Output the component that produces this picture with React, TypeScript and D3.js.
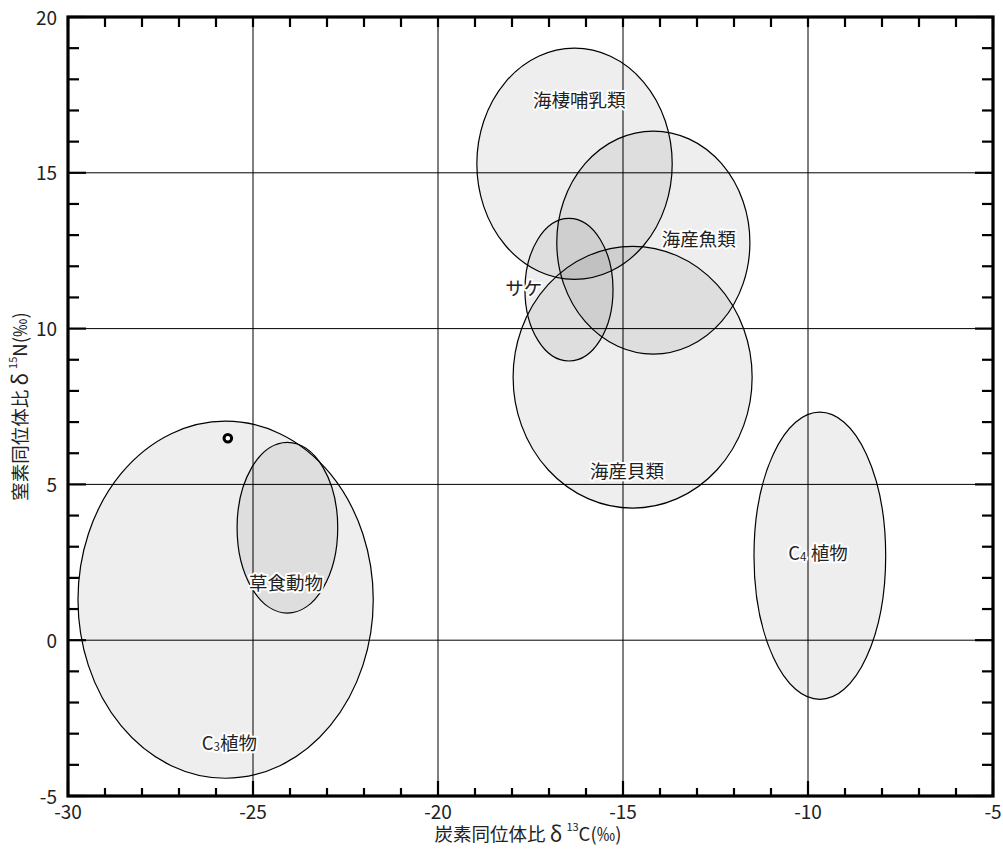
import React from "react";
import * as d3 from "d3";

const groupNames = ["C₃植物", "草食動物", "海棲哺乳類", "海産魚類", "サケ", "海産貝類", "C₄植物"];
const centerX = [-25.74, -24.07, -16.31, -14.18, -16.46, -14.74, -9.68];
const centerY = [1.3, 3.61, 15.29, 12.76, 11.25, 8.44, 2.71];
const radiusX = [3.99, 1.36, 2.64, 2.61, 1.19, 3.23, 1.78];
const radiusY = [5.73, 2.74, 3.71, 3.58, 2.29, 4.2, 4.61];
const labelX = [-25.64, -24.11, -16.18, -12.95, -17.68, -14.89, -9.73];
const labelY = [-3.27, 1.86, 17.36, 12.9, 11.33, 5.46, 2.82];
const sampleX = [-25.68];
const sampleY = [6.48];
const xTicks = [-30, -25, -20, -15, -10, -5];
const yTicks = [-5, 0, 5, 10, 15, 20];

const W = 1003, H = 850;
const L = 68, R = 993, T = 17, B = 796;
const FONT = "'Noto Sans CJK JP', 'Noto Sans', sans-serif";
const LFS = 18.5;

export default function App() {
  const x = d3.scaleLinear().domain([-30, -5]).range([L, R]);
  const y = d3.scaleLinear().domain([-5, 20]).range([B, T]);
  const xMinor = d3.range(-30, -4, 1);
  const yMinor = d3.range(-5, 21, 1);
  const isMajor = (v: number) => v % 5 === 0;

  const renderLabel = (s: string, px: number, py: number, i: number) => {
    const m = s.match(/^C([₃₄])(.*)$/);
    const common = { x: px, y: py, textAnchor: "middle" as const, dominantBaseline: "central" as const, fontFamily: FONT, fontSize: LFS, fill: "#222" };
    if (m) {
      const sub = m[1] === "₃" ? "3" : "4";
      return (
        <g key={i}>
          {["halo", "txt"].map((k) => (
            <text key={k} {...common} stroke={k === "halo" ? "white" : "none"} strokeWidth={k === "halo" ? 4 : 0} strokeLinejoin="round" fill={k === "halo" ? "white" : "#222"}>
              C<tspan fontSize={11.5} dy={4}>{sub}</tspan><tspan dy={-4}>{sub === "4" ? " " : ""}{m[2]}</tspan>
            </text>
          ))}
        </g>
      );
    }
    return (
      <g key={i}>
        <text {...common} stroke="white" strokeWidth={4} strokeLinejoin="round" fill="white">{s}</text>
        <text {...common}>{s}</text>
      </g>
    );
  };

  return (
    <svg width={W} height={H} style={{ display: "block", position: "absolute", left: 0, top: 0 }}>
      <rect x={0} y={0} width={W} height={H} fill="white" />
      {xTicks.slice(1, -1).map((v) => (
        <line key={"gx" + v} x1={x(v)} x2={x(v)} y1={T} y2={B} stroke="#000" strokeWidth={1} />
      ))}
      {yTicks.slice(1, -1).map((v) => (
        <line key={"gy" + v} x1={L} x2={R} y1={y(v)} y2={y(v)} stroke="#000" strokeWidth={1} />
      ))}
      {groupNames.map((n, i) => (
        <ellipse
          key={"e" + i}
          cx={x(centerX[i])}
          cy={y(centerY[i])}
          rx={x(centerX[i] + radiusX[i]) - x(centerX[i])}
          ry={y(centerY[i]) - y(centerY[i] + radiusY[i])}
          fill="rgba(0,0,0,0.068)"
          stroke="#000"
          strokeWidth={1.2}
        />
      ))}
      {sampleX.map((v, i) => (
        <g key={"s" + i}>
          <circle cx={x(v)} cy={y(sampleY[i])} r={3.8} fill="white" stroke="#000" strokeWidth={3} />
        </g>
      ))}
      {groupNames.map((n, i) => renderLabel(n, x(labelX[i]), y(labelY[i]), i))}
      {xMinor.map((v) => {
        const len = isMajor(v) ? 15 : 8;
        return (
          <g key={"tx" + v}>
            <line x1={x(v)} x2={x(v)} y1={B} y2={B - len} stroke="#000" strokeWidth={2.2} />
            <line x1={x(v)} x2={x(v)} y1={T} y2={T + 10} stroke="#000" strokeWidth={2.2} />
          </g>
        );
      })}
      {yMinor.map((v) => {
        const len = isMajor(v) ? 18 : 11;
        return (
          <g key={"ty" + v}>
            <line x1={L} x2={L + len} y1={y(v)} y2={y(v)} stroke="#000" strokeWidth={2.2} />
            <line x1={R} x2={R - len} y1={y(v)} y2={y(v)} stroke="#000" strokeWidth={2.2} />
          </g>
        );
      })}
      <rect x={L} y={T} width={R - L} height={B - T} fill="none" stroke="#000" strokeWidth={3.2} />
      {xTicks.map((v) => (
        <text key={"lx" + v} x={x(v)} y={B + 14} textAnchor="middle" dominantBaseline="central" fontFamily={FONT} fontSize={19} fill="#222">{v}</text>
      ))}
      {yTicks.map((v) => (
        <text key={"ly" + v} x={L - 11} y={y(v)} dy={-1} textAnchor="end" dominantBaseline="central" fontFamily={FONT} fontSize={19} fill="#222">{v}</text>
      ))}
      <text x={528} y={833} textAnchor="middle" dominantBaseline="central" fontFamily={FONT} fontSize={18.5} fill="#222">
        炭素同位体比 <tspan fontSize={21}>δ</tspan> <tspan fontSize={11} dy={-7}>13</tspan><tspan dy={7}>C(‰)</tspan>
      </text>
      <text transform={`translate(19,${(T + B) / 2}) rotate(-90)`} textAnchor="middle" dominantBaseline="central" fontFamily={FONT} fontSize={18.5} fill="#222">
        窒素同位体比 <tspan fontSize={21}>δ</tspan> <tspan fontSize={11} dy={-7}>15</tspan><tspan dy={7}>N(‰)</tspan>
      </text>
    </svg>
  );
}
